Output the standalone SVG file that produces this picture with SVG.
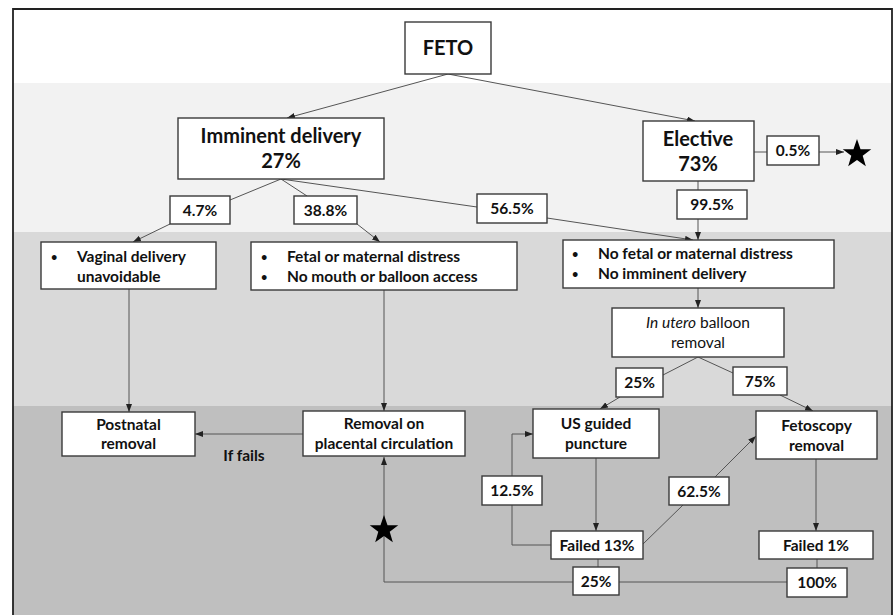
<svg xmlns="http://www.w3.org/2000/svg" width="895" height="615" viewBox="0 0 895 615">
<defs>
<style>
.box{fill:#fff;stroke:#3a3a3a;stroke-width:1.4}
.ln{fill:none;stroke:#555;stroke-width:1}
.arr{marker-end:url(#ah)}
text{font-family:Lato,"Open Sans","Liberation Sans",sans-serif;font-weight:bold;fill:#111;font-size:15.5px}
.c{text-anchor:middle}
.big{font-size:20px}
.reg{font-weight:normal}
.bul{font-size:11px}
</style>
<marker id="ah" markerWidth="8" markerHeight="6" refX="8" refY="3" orient="auto" markerUnits="userSpaceOnUse">
<path d="M0,0 L8,3 L0,6 z" fill="#222"/>
</marker>
<path id="star" d="M0,-15 L3.53,-4.85 L14.27,-4.64 L5.71,1.85 L8.82,12.14 L0,6 L-8.82,12.14 L-5.71,1.85 L-14.27,-4.64 L-3.53,-4.85 Z" fill="#000"/>
</defs>
<g id="background">
<rect x="0" y="0" width="895" height="615" fill="#fff"/>
<rect x="13" y="9" width="879" height="74" fill="#fff"/>
<rect x="13" y="83" width="879" height="149" fill="#f2f2f2"/>
<rect x="13" y="232" width="879" height="174" fill="#d9d9d9"/>
<rect x="13" y="406" width="879" height="209" fill="#bfbfbf"/>
<path d="M13,615 V9 H892 V615" fill="none" stroke="#222" stroke-width="1.8"/>
</g>
<g id="connectors">
<line class="ln arr" x1="448" y1="74" x2="287" y2="118"/>
<line class="ln arr" x1="448" y1="74" x2="695" y2="121"/>
<line class="ln" x1="281" y1="179" x2="230" y2="200"/>
<line class="ln arr" x1="170" y1="224" x2="133" y2="242"/>
<line class="ln" x1="281" y1="179" x2="307" y2="196"/>
<line class="ln arr" x1="357" y1="224" x2="380" y2="242"/>
<line class="ln" x1="281" y1="179" x2="477" y2="207"/>
<line class="ln arr" x1="547" y1="218" x2="693" y2="240"/>
<line class="ln" x1="698" y1="181" x2="698" y2="190"/>
<line class="ln arr" x1="698" y1="219" x2="698" y2="240"/>
<line class="ln" x1="754" y1="152" x2="767" y2="152"/>
<line class="ln arr" x1="819" y1="152" x2="844" y2="152"/>
<line class="ln arr" x1="129" y1="289" x2="129" y2="412"/>
<line class="ln arr" x1="384" y1="290" x2="384" y2="411"/>
<line class="ln arr" x1="698" y1="288" x2="698" y2="308"/>
<line class="ln" x1="698" y1="357" x2="663" y2="375"/>
<line class="ln arr" x1="620" y1="397" x2="600" y2="409"/>
<line class="ln" x1="698" y1="357" x2="733" y2="373"/>
<line class="ln arr" x1="780" y1="395" x2="813" y2="411"/>
<line class="ln arr" x1="303" y1="434" x2="195" y2="434"/>
<line class="ln arr" x1="596" y1="458" x2="596" y2="531"/>
<polyline class="ln" points="551,545 512,545 512,505"/>
<polyline class="ln arr" points="512,476 512,434 533,434"/>
<line class="ln" x1="643" y1="544" x2="683" y2="505"/>
<line class="ln arr" x1="715" y1="477" x2="756" y2="436"/>
<line class="ln arr" x1="816" y1="459" x2="816" y2="531"/>
<line class="ln" x1="598" y1="559" x2="598" y2="567"/>
<line class="ln" x1="817" y1="559" x2="817" y2="568"/>
<polyline class="ln arr" points="787,582 384,582 384,457"/>
</g>
<g id="feto"><rect class="box" x="405" y="22" width="86" height="52"/><text class="c big" x="448" y="55">FETO</text></g>
<g id="imminent"><rect class="box" x="178" y="118" width="206" height="61"/><text class="c big" x="281" y="143">Imminent delivery</text><text class="c big" x="281" y="168">27%</text></g>
<g id="elective"><rect class="box" x="643" y="121" width="111" height="60"/><text class="c big" x="698" y="146">Elective</text><text class="c big" x="698" y="171">73%</text></g>
<g id="p05"><rect class="box" x="767" y="136" width="52" height="29"/><text class="c" x="793" y="156">0.5%</text></g>
<g id="star1"><use href="#star" x="857" y="154"/></g>
<g id="p47"><rect class="box" x="170" y="196" width="60" height="28"/><text class="c" x="200" y="216">4.7%</text></g>
<g id="p388"><rect class="box" x="294" y="196" width="63" height="28"/><text class="c" x="325.5" y="216">38.8%</text></g>
<g id="p565"><rect class="box" x="477" y="194" width="70" height="29"/><text class="c" x="512" y="214">56.5%</text></g>
<g id="p995"><rect class="box" x="677" y="190" width="70" height="29"/><text class="c" x="712" y="210">99.5%</text></g>
<g id="vaginal"><rect class="box" x="41" y="242" width="175" height="47"/><text class="bul" x="51" y="261">•</text><text x="77" y="262">Vaginal delivery</text><text x="77" y="282">unavoidable</text></g>
<g id="fetal"><rect class="box" x="251" y="242" width="266" height="48"/><text class="bul" x="261" y="261">•</text><text x="287" y="262">Fetal or maternal distress</text><text class="bul" x="261" y="281">•</text><text x="287" y="282">No mouth or balloon access</text></g>
<g id="nofetal"><rect class="box" x="563" y="240" width="271" height="48"/><text class="bul" x="572" y="258">•</text><text x="598" y="259">No fetal or maternal distress</text><text class="bul" x="572" y="278">•</text><text x="598" y="279">No imminent delivery</text></g>
<g id="inutero"><rect class="box" x="612" y="308" width="172" height="49"/><text class="c reg" x="698" y="328"><tspan font-style="italic">In utero</tspan> balloon</text><text class="c reg" x="698" y="348">removal</text></g>
<g id="p25a"><rect class="box" x="616" y="368" width="47" height="29"/><text class="c" x="639.5" y="388">25%</text></g>
<g id="p75"><rect class="box" x="733" y="367" width="54" height="28"/><text class="c" x="760" y="387">75%</text></g>
<g id="postnatal"><rect class="box" x="62" y="412" width="133" height="44"/><text class="c" x="128.5" y="430">Postnatal</text><text class="c" x="128.5" y="449">removal</text></g>
<g id="removal"><rect class="box" x="303" y="411" width="162" height="45"/><text class="c" x="384" y="429">Removal on</text><text class="c" x="384" y="449">placental circulation</text></g>
<g id="iffails"><text class="c" x="244" y="461">If fails</text></g>
<g id="usguided"><rect class="box" x="533" y="409" width="126" height="49"/><text class="c" x="596" y="429">US guided</text><text class="c" x="596" y="449">puncture</text></g>
<g id="fetoscopy"><rect class="box" x="756" y="411" width="121" height="48"/><text class="c" x="816.5" y="431">Fetoscopy</text><text class="c" x="816.5" y="451">removal</text></g>
<g id="p125"><rect class="box" x="482" y="476" width="60" height="29"/><text class="c" x="512" y="496">12.5%</text></g>
<g id="p625"><rect class="box" x="669" y="477" width="60" height="28"/><text class="c" x="699" y="497">62.5%</text></g>
<g id="failed13"><rect class="box" x="551" y="531" width="92" height="28"/><text class="c" x="597" y="551">Failed 13%</text></g>
<g id="failed1"><rect class="box" x="759" y="531" width="114" height="28"/><text class="c" x="816" y="551">Failed 1%</text></g>
<g id="p25b"><rect class="box" x="573" y="567" width="46" height="28"/><text class="c" x="596" y="587">25%</text></g>
<g id="p100"><rect class="box" x="787" y="568" width="60" height="29"/><text class="c" x="817" y="588">100%</text></g>
<g id="star2"><use href="#star" x="384" y="530"/></g>
</svg>
